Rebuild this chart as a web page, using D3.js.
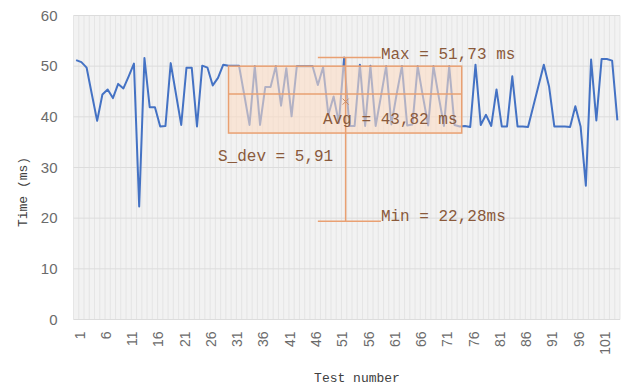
<!DOCTYPE html>
<html>
<head>
<meta charset="utf-8">
<script src="https://cdn.jsdelivr.net/npm/d3@7"></script>
<style>
  html, body { margin: 0; padding: 0; background: #ffffff; }
  svg { display: block; }
</style>
</head>
<body>
<svg id="chart" width="621" height="387"></svg>
<script>
(function () {
// ---- data ----
const testNumbers = d3.range(1, 105);
const times = [
  51.2, 50.8, 49.7, 44.4, 39.2, 44.4, 45.4, 43.7, 46.5, 45.6,
  48.0, 50.5, 22.3, 51.6, 41.9, 41.9, 38.1, 38.2, 50.6, 44.5,
  38.4, 49.7, 49.7, 38.1, 50.1, 49.7, 46.2, 47.7, 50.3, 50.1,
  50.1, 50.1, 44.3, 38.4, 50.0, 38.4, 45.9, 45.9, 50.0, 42.2,
  49.6, 40.1, 50.0, 50.0, 50.0, 50.0, 46.3, 49.8, 40.4, 44.0,
  38.8, 51.7, 38.2, 38.2, 50.3, 38.2, 50.1, 38.2, 44.0, 50.0,
  38.5, 44.5, 50.0, 38.3, 38.5, 50.0, 44.0, 38.3, 50.0, 44.0,
  38.2, 50.0, 38.4, 38.1, 38.2, 38.0, 50.3, 38.4, 40.4, 38.2,
  45.4, 38.1, 38.1, 48.0, 38.1, 38.1, 38.0, 42.1, 46.2, 50.3,
  46.0, 38.1, 38.1, 38.1, 38.0, 42.1, 38.1, 26.4, 51.3, 39.3,
  51.4, 51.4, 51.1, 39.3
];
const xTickLabels = ["1","6","11","16","21","26","31","36","41","46","51","56","61","66","71","76","81","86","91","96","101"];
const yTicks = [0, 10, 20, 30, 40, 50, 60];

// annotation (hand drawn box-plot overlay)
const boxRange = [30, 74];
const boxLevels = [50.0, 44.5, 36.8];
const whiskerCat = 52;
const whiskerLevels = [51.73, 19.4];
const capRange = [47, 59];
const meanMark = 43.0;
const labels = [
  { text: "Max = 51,73 ms", cat: 59, level: 51.5 },
  { text: "Avg = 43,82 ms", cat: 48, level: 38.6 },
  { text: "S_dev = 5,91",   cat: 28, level: 31.3 },
  { text: "Min = 22,28ms",  cat: 59, level: 19.4 }
];

// ---- layout ----
const svg = d3.select("#chart");
const pLeft = 73.5, pRight = 620, pTop = 15.5, pBottom = 319.5;

const x = d3.scaleBand().domain(testNumbers).range([pLeft, pRight]).padding(0);
const bw = x.bandwidth();
const cx = d => x(d) + bw / 2;
const y = d3.scaleLinear().domain([0, 60]).range([pBottom, pTop]);

svg.append("rect")
  .attr("x", pLeft).attr("y", pTop)
  .attr("width", pRight - pLeft).attr("height", pBottom - pTop)
  .attr("fill", "#f2f2f2");

svg.append("g").selectAll("line")
  .data(testNumbers.concat([105]))
  .join("line")
  .attr("x1", d => d <= 104 ? x(d) : pRight)
  .attr("x2", d => d <= 104 ? x(d) : pRight)
  .attr("y1", pTop).attr("y2", pBottom)
  .attr("stroke", "#e1e1e1").attr("stroke-width", 0.8);

svg.append("g").selectAll("line")
  .data(yTicks)
  .join("line")
  .attr("x1", pLeft).attr("x2", pRight)
  .attr("y1", d => y(d)).attr("y2", d => y(d))
  .attr("stroke", "#dcdcdc").attr("stroke-width", 1);

const yAxis = d3.axisLeft(y).tickValues(yTicks).tickSize(0).tickPadding(16);
svg.append("g")
  .attr("transform", `translate(${pLeft},0)`)
  .call(yAxis)
  .call(g => g.select(".domain").remove())
  .call(g => g.selectAll("text")
    .attr("font-family", "Liberation Sans, Arial, sans-serif")
    .attr("font-size", 15)
    .attr("fill", "#6b6b6b"));

const xAxis = d3.axisBottom(x)
  .tickValues(testNumbers.filter(d => xTickLabels.includes(String(d))))
  .tickSize(0);
svg.append("g")
  .attr("transform", `translate(0,${pBottom})`)
  .call(xAxis)
  .call(g => g.select(".domain").remove())
  .call(g => g.selectAll("text")
    .attr("font-family", "Liberation Sans, Arial, sans-serif")
    .attr("font-size", 14)
    .attr("fill", "#6b6b6b")
    .attr("text-anchor", "end")
    .attr("transform", "rotate(-90)")
    .attr("x", -12)
    .attr("y", 0)
    .attr("dy", "0.6em"));

const line = d3.line().x((d, i) => cx(testNumbers[i])).y(d => y(d));
svg.append("path")
  .datum(times)
  .attr("d", line)
  .attr("fill", "none")
  .attr("stroke", "#4472c4")
  .attr("stroke-width", 2)
  .attr("stroke-linejoin", "round");

const ann = svg.append("g");
const orange = "#e9a072";
const bx0 = cx(boxRange[0]), bx1 = cx(boxRange[1]) + 2;
ann.append("rect")
  .attr("x", bx0).attr("y", y(boxLevels[0]))
  .attr("width", bx1 - bx0).attr("height", y(boxLevels[2]) - y(boxLevels[0]))
  .attr("fill", "#fbdcc4").attr("fill-opacity", 0.6)
  .attr("stroke", orange).attr("stroke-width", 1.5);
ann.append("line")
  .attr("x1", bx0).attr("x2", bx1)
  .attr("y1", y(boxLevels[1])).attr("y2", y(boxLevels[1]))
  .attr("stroke", orange).attr("stroke-width", 1.5);
const wx = cx(whiskerCat) + 1.5;
ann.append("line")
  .attr("x1", wx).attr("x2", wx)
  .attr("y1", y(whiskerLevels[0])).attr("y2", y(whiskerLevels[1]))
  .attr("stroke", orange).attr("stroke-width", 1.5);
ann.selectAll("line.cap")
  .data(whiskerLevels)
  .join("line")
  .attr("class", "cap")
  .attr("x1", cx(capRange[0])).attr("x2", cx(capRange[1]))
  .attr("y1", d => y(d)).attr("y2", d => y(d))
  .attr("stroke", orange).attr("stroke-width", 1.5);
const my = y(meanMark);
ann.append("path")
  .attr("d", `M${wx - 3},${my - 3}L${wx + 3},${my + 3}M${wx - 3},${my + 3}L${wx + 3},${my - 3}`)
  .attr("stroke", "#c98a63").attr("stroke-width", 1);

ann.selectAll("text")
  .data(labels)
  .join("text")
  .attr("x", d => cx(d.cat))
  .attr("y", d => y(d.level))
  .attr("font-family", "Liberation Mono, DejaVu Sans Mono, monospace")
  .attr("font-size", 16)
  .attr("fill", "#8a5a3c")
  .text(d => d.text);

svg.append("text")
  .attr("transform", `translate(27,192) rotate(-90)`)
  .attr("text-anchor", "middle")
  .attr("font-family", "Liberation Mono, DejaVu Sans Mono, monospace")
  .attr("font-size", 13)
  .attr("fill", "#404040")
  .text("Time (ms)");
svg.append("text")
  .attr("x", 357).attr("y", 382)
  .attr("text-anchor", "middle")
  .attr("font-family", "Liberation Mono, DejaVu Sans Mono, monospace")
  .attr("font-size", 13)
  .attr("fill", "#404040")
  .text("Test number");
})();
</script>
</body>
</html>
